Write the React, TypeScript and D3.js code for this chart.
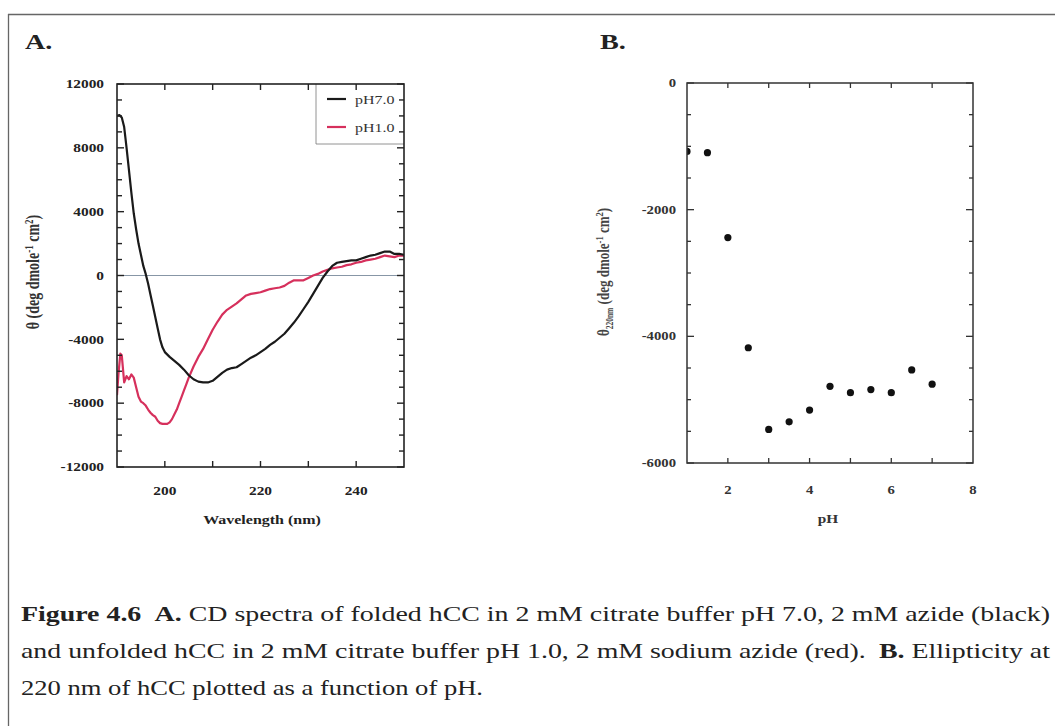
import React from "react";
import * as d3 from "d3";

// Panel A: CD spectra
const wavelengthsBlack = [190,190.5,191,191.5,192,192.5,193,193.5,194,194.5,195,195.5,196,196.5,197,197.5,198,198.5,199,199.5,200,201,202,203,204,205,206,207,208,209,210,211,212,213,214,215,216,217,218,219,220,221,222,223,224,225,226,227,228,229,230,231,232,233,234,235,236,237,238,239,240,241,242,243,244,245,246,247,248,249,250];
const thetaPH7 = [10000,10050,9900,9300,8000,6600,5200,3900,2900,2000,1300,600,100,-500,-1200,-1900,-2600,-3300,-4000,-4500,-4800,-5100,-5350,-5600,-5900,-6250,-6500,-6650,-6700,-6700,-6600,-6350,-6100,-5900,-5800,-5750,-5550,-5350,-5150,-5000,-4800,-4600,-4350,-4150,-3900,-3650,-3300,-2950,-2550,-2100,-1650,-1150,-650,-150,250,600,800,850,900,950,950,1050,1150,1250,1300,1400,1500,1500,1350,1350,1300];

const wavelengthsRed = [190,190.3,190.7,191,191.5,192,192.5,193,193.5,194,194.5,195,195.5,196,196.5,197,197.5,198,198.5,199,199.5,200,200.5,201,201.5,202,202.5,203,203.5,204,204.5,205,206,207,208,209,210,211,212,213,214,215,216,217,218,219,220,221,222,223,224,225,226,227,228,229,230,231,232,233,234,235,236,237,238,239,240,241,242,243,244,245,246,247,248,249,250];
const thetaPH1 = [-7500,-6200,-4900,-5000,-6700,-6300,-6500,-6200,-6400,-7000,-7600,-7900,-8000,-8150,-8400,-8600,-8750,-8850,-9100,-9250,-9300,-9300,-9300,-9200,-9000,-8700,-8400,-8000,-7600,-7200,-6800,-6400,-5700,-5100,-4600,-4000,-3400,-2900,-2450,-2150,-1950,-1750,-1500,-1250,-1150,-1100,-1050,-950,-850,-800,-750,-650,-450,-300,-300,-300,-150,0,100,250,350,450,500,550,650,700,800,850,950,1000,1050,1150,1250,1200,1150,1250,1250];

const seriesNames = ["pH7.0", "pH1.0"];
const seriesColors = ["#1a1a1a", "#d6305c"];

const aXTickLabels = [200, 220, 240];
const aYTickLabels = [12000, 8000, 4000, 0, -4000, -8000, -12000];

// Panel B: ellipticity at 220 nm vs pH
const pHValues = [1, 1.5, 2, 2.5, 3, 3.5, 4, 4.5, 5, 5.5, 6, 6.5, 7];
const theta220 = [-1080, -1100, -2440, -4180, -5470, -5350, -5165, -4790, -4890, -4840, -4890, -4530, -4755];
const bXTickLabels = [2, 4, 6, 8];
const bYTickLabels = [0, -2000, -4000, -6000];

const captionLines = [
  "A. CD spectra of folded hCC in 2 mM citrate buffer pH 7.0, 2 mM azide (black)",
  "and unfolded hCC in 2 mM citrate buffer pH 1.0, 2 mM sodium azide (red).",
  "220 nm of hCC plotted as a function of pH.",
];

const SERIF = "Liberation Serif, Times New Roman, Times, serif";
const serif = { fontFamily: SERIF };
const SX = 1.28; // the scanned figure is stretched horizontally

function T({ x, y, anchor = "start", size, bold = false, fill = "#222", children }: any) {
  return (
    <text transform={`translate(${x},${y}) scale(${SX},1)`} textAnchor={anchor} style={serif}
      fontWeight={bold ? "bold" : "normal"} fontSize={size} fill={fill}>{children}</text>
  );
}

function PanelA() {
  const left = 117, right = 404, top = 84, bottom = 467;
  const x = d3.scaleLinear().domain([190, 250]).range([left, right]);
  const y = d3.scaleLinear().domain([-12000, 12000]).range([bottom, top]);
  const line = d3.line<[number, number]>().x(d => x(d[0])).y(d => y(d[1]));
  const black = wavelengthsBlack.map((w, i) => [w, thetaPH7[i]] as [number, number]);
  const red = wavelengthsRed.map((w, i) => [w, thetaPH1[i]] as [number, number]);
  const xTicks = d3.range(200, 250, 10);
  const yTicks = d3.range(-12000, 12001, 1000);
  const legendLeft = 316, legendBottom = 144;
  return (
    <g>
      <defs>
        <clipPath id="clipA"><rect x={left} y={top} width={right - left} height={bottom - top} /></clipPath>
      </defs>
      <line x1={left} x2={right} y1={y(0)} y2={y(0)} stroke="#8796a6" strokeWidth={1} />
      <g clipPath="url(#clipA)" fill="none" strokeLinejoin="round">
        <path d={line(red) || ""} stroke={seriesColors[1]} strokeWidth={2.2} />
        <path d={line(black) || ""} stroke={seriesColors[0]} strokeWidth={2.2} />
      </g>
      <rect x={legendLeft} y={top} width={right - legendLeft} height={legendBottom - top} fill="white" />
      <line x1={legendLeft} x2={legendLeft} y1={top} y2={legendBottom} stroke="#777" strokeWidth={0.8} />
      <line x1={legendLeft} x2={right} y1={legendBottom} y2={legendBottom} stroke="#777" strokeWidth={0.8} />
      {seriesNames.map((n, i) => (
        <g key={n}>
          <line x1={327} x2={346} y1={99 + i * 28} y2={99 + i * 28} stroke={seriesColors[i]} strokeWidth={2.2} />
          <T x={355} y={103.5 + i * 28} size={12.5} fill="#333">{n}</T>
        </g>
      ))}
      <rect x={left} y={top} width={right - left} height={bottom - top} fill="none" stroke="#222" strokeWidth={1.6} />
      {xTicks.map(t => (
        <g key={"xt" + t}>
          <line x1={x(t)} x2={x(t)} y1={bottom} y2={bottom - 6} stroke="#222" strokeWidth={1.4} />
          <line x1={x(t)} x2={x(t)} y1={top} y2={top + 6} stroke="#222" strokeWidth={1.4} />
        </g>
      ))}
      {yTicks.map(t => {
        const len = t % 4000 === 0 ? 7 : 5;
        return (
          <g key={"yt" + t}>
            <line x1={left} x2={left + len} y1={y(t)} y2={y(t)} stroke="#222" strokeWidth={1.4} />
            <line x1={right} x2={right - len} y1={y(t)} y2={y(t)} stroke="#222" strokeWidth={1.4} />
          </g>
        );
      })}
      {aXTickLabels.map(t => (
        <T key={"xl" + t} x={x(t)} y={495} anchor="middle" size={12} bold>{t}</T>
      ))}
      {aYTickLabels.map(t => (
        <T key={"yl" + t} x={104} y={y(t) + 4.2} anchor="end" size={12} bold>{t}</T>
      ))}
      <T x={262} y={524} anchor="middle" size={12.5} bold>Wavelength (nm)</T>
      <text transform={`translate(39,272) rotate(-90) scale(1,${SX})`} textAnchor="middle" style={serif} fontWeight="bold" fontSize={14} fill="#333">
        θ (deg dmole<tspan dy={-4.5} fontSize={9}>-1</tspan><tspan dy={4.5}> cm</tspan><tspan dy={-4.5} fontSize={9}>2</tspan><tspan dy={4.5}>)</tspan>
      </text>
    </g>
  );
}

function PanelB() {
  const left = 687, right = 973, top = 83, bottom = 463;
  const x = d3.scaleLinear().domain([1, 8]).range([left, right]);
  const y = d3.scaleLinear().domain([-6000, 0]).range([bottom, top]);
  const xTicks = d3.range(2, 8, 1);
  const yTicks = d3.range(-6000, 1, 500);
  return (
    <g>
      <defs>
        <clipPath id="clipB"><rect x={left} y={top} width={right - left} height={bottom - top} /></clipPath>
      </defs>
      <g clipPath="url(#clipB)">
        {pHValues.map((p, i) => (
          <circle key={"pt" + i} cx={x(p)} cy={y(theta220[i])} r={3.6} fill="#111" />
        ))}
      </g>
      <rect x={left} y={top} width={right - left} height={bottom - top} fill="none" stroke="#333" strokeWidth={1.5} />
      {xTicks.map(t => (
        <g key={"xt" + t}>
          <line x1={x(t)} x2={x(t)} y1={bottom} y2={bottom - 5} stroke="#333" strokeWidth={1.3} />
          <line x1={x(t)} x2={x(t)} y1={top} y2={top + 5} stroke="#333" strokeWidth={1.3} />
        </g>
      ))}
      {yTicks.map(t => {
        const len = t % 2000 === 0 ? 7 : 4;
        return (
          <g key={"yt" + t}>
            <line x1={left} x2={left + len} y1={y(t)} y2={y(t)} stroke="#333" strokeWidth={1.3} />
            <line x1={right} x2={right - len} y1={y(t)} y2={y(t)} stroke="#333" strokeWidth={1.3} />
          </g>
        );
      })}
      {bXTickLabels.map(t => (
        <T key={"xl" + t} x={x(t)} y={494} anchor="middle" size={11.5} bold fill="#333">{t}</T>
      ))}
      {bYTickLabels.map(t => (
        <T key={"yl" + t} x={676} y={y(t) + 4} anchor="end" size={11.5} bold fill="#333">{t}</T>
      ))}
      <T x={828} y={523} anchor="middle" size={12} bold fill="#333">pH</T>
      <text transform={`translate(609,272) rotate(-90) scale(1,${SX})`} textAnchor="middle" style={serif} fontWeight="bold" fontSize={13} fill="#444">
        θ<tspan dy={3} fontSize={7.5}>220nm</tspan><tspan dy={-3}> (deg dmole</tspan><tspan dy={-4.5} fontSize={8.5}>-1</tspan><tspan dy={4.5}> cm</tspan><tspan dy={-4.5} fontSize={8.5}>2</tspan><tspan dy={4.5}>)</tspan>
      </text>
    </g>
  );
}

export default function App() {
  return (
    <svg width={1055} height={726} style={{ position: "absolute", left: 0, top: 0, background: "white" }}>
      <rect x={0} y={0} width={1055} height={726} fill="white" />
      <line x1={8} x2={1055} y1={14.5} y2={14.5} stroke="#666" strokeWidth={1.3} />
      <line x1={8.5} x2={8.5} y1={14} y2={726} stroke="#666" strokeWidth={1.3} />
      <T x={25} y={49} size={22} bold>A.</T>
      <T x={600} y={49} size={22} bold>B.</T>
      <PanelA />
      <PanelB />
      <g style={serif} fontSize={21} fill="#222">
        <text x={21} y={621} textLength={1029} lengthAdjust="spacingAndGlyphs">
          <tspan fontWeight="bold">Figure 4.6</tspan><tspan dx={10} fontWeight="bold">A.</tspan> {captionLines[0].slice(3)}
        </text>
        <text x={21} y={658} textLength={1029} lengthAdjust="spacingAndGlyphs">
          {captionLines[1]}<tspan dx={10} fontWeight="bold">B.</tspan> Ellipticity at
        </text>
        <text x={21} y={695} textLength={462} lengthAdjust="spacingAndGlyphs">{captionLines[2]}</text>
      </g>
    </svg>
  );
}
